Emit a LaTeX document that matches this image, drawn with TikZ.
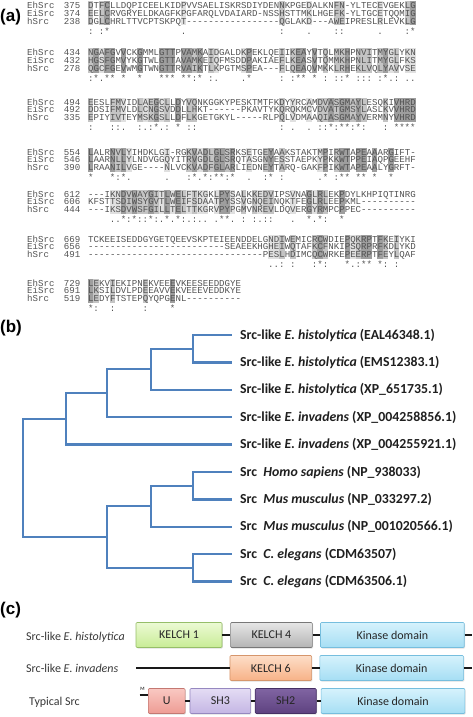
\documentclass[tikz,border=0pt]{standalone}
\usepackage{fontspec}
\setmainfont{Carlito}
\setmonofont{Liberation Mono}
\newfontfamily\panelfont{Liberation Sans}
\usetikzlibrary{positioning,shadows}
\definecolor{treeBlue}{RGB}{79,129,189}
\colorlet{shadeS}{black!38}
\colorlet{shadeC}{black!23}
\colorlet{shadeD}{black!12}
\definecolor{kelchOneTop}{RGB}{236,250,212}
\definecolor{kelchOneBot}{RGB}{200,236,150}
\definecolor{kelchOneLine}{RGB}{150,190,105}
\definecolor{kelchFourTop}{RGB}{230,230,230}
\definecolor{kelchFourBot}{RGB}{180,180,180}
\definecolor{kelchFourLine}{RGB}{120,120,120}
\definecolor{kinaseTop}{RGB}{214,242,252}
\definecolor{kinaseBot}{RGB}{165,222,244}
\definecolor{kinaseLine}{RGB}{118,190,222}
\definecolor{kelchSixTop}{RGB}{253,222,200}
\definecolor{kelchSixBot}{RGB}{247,178,135}
\definecolor{kelchSixLine}{RGB}{214,150,108}
\definecolor{uTop}{RGB}{249,200,194}
\definecolor{uBot}{RGB}{238,156,148}
\definecolor{uLine}{RGB}{196,120,114}
\definecolor{shThreeTop}{RGB}{228,220,244}
\definecolor{shThreeBot}{RGB}{196,182,228}
\definecolor{shThreeLine}{RGB}{150,136,192}
\definecolor{shTwoTop}{RGB}{128,100,162}
\definecolor{shTwoBot}{RGB}{94,66,128}
\definecolor{shTwoLine}{RGB}{70,48,100}
\newcommand{\colw}{5.461}
\newcommand{\markS}{*}
\newcommand{\markC}{:}
\newcommand{\markD}{.}
% one row of the alignment: id, block top, row, name, start, residues
\newcommand{\alnrow}[6]{%
\node[seq] (#1n) at (27,{#2+3+7.6*#3}) {#4};
\node[seqnum] (#1k) at (80.5,{#2+3+7.6*#3}) {#5};
\node[seq] (#1s) at (88,{#2+3+7.6*#3}) {#6};
}
% shaded columns and consensus marks: block, block top, col/level list
\newcommand{\alnshade}[3]{%
\foreach \cc/\lv in {#3}{
\fill[shade\lv] ({88+\colw*\cc},{#2-4.5}) rectangle ++(\colw,24);
\node[consmark] (cm#1-\cc) at ({88+\colw*(\cc+0.5)},{#2+28.5}) {\csname mark\lv\endcsname};
}}

\begin{document}
\begin{tikzpicture}[x=1pt, y=-1pt,
seq/.style={inner sep=0pt, anchor=base west, text=black!68, font=\ttfamily\fontsize{9.1}{10}\selectfont},
seqnum/.style={seq, anchor=base east},
consmark/.style={inner sep=0pt, anchor=base, text=black!68, font=\ttfamily\fontsize{9.1}{10}\selectfont},
panel/.style={inner sep=0pt, anchor=west, font=\panelfont\bfseries\fontsize{17}{17}\selectfont},
branch/.style={treeBlue, line width=2.3pt},
leaf/.style={inner sep=0pt, anchor=west, text=black!88, font=\bfseries\fontsize{13.8}{15}\selectfont},
rowlab/.style={inner sep=0pt, anchor=base west, text=black!78, font=\fontsize{12}{14}\selectfont},
dom/.style={top color=#1Top, bottom color=#1Bot, draw=#1Line, line width=0.6pt, rounded corners=1pt,
  minimum height=25pt, inner sep=0pt, font=\fontsize{12}{14}\selectfont, text=black!85,
  drop shadow={shadow xshift=0.8pt, shadow yshift=-1pt, opacity=0.25}},
link/.style={line width=1.6pt, black!90}]
\useasboundingbox (0,0) rectangle (472,717);

% (a) alignment
\node[panel] (pa) at (0,17.5) {(a)};

\alnshade{1}{6}{0/C,2/C,3/S,17/D,35/C,40/D,45/C,46/C,53/D,58/C,59/S}
\alnrow{b1r1}{6}{0}{EhSrc}{375}{DTFCLLDQPICEELKIDPVVSAELISKRSDIYDENNKPGEDALKNFN-YLTECEVGEKLG}
\alnrow{b1r2}{6}{1}{EiSrc}{374}{EELCRVGRYELDKAGFKPGFARQLVDAIARD-NSSHSTTMKLHGEFK-YLTGCETQQMIG}
\alnrow{b1r3}{6}{2}{hSrc}{238}{DGLCHRLTTVCPTSKPQT-----------------QGLAKD---AWEIPRESLRLEVKLG}

\alnshade{2}{53}{0/C,1/S,2/D,3/S,4/S,6/S,9/S,13/S,14/S,15/S,17/S,18/S,19/C,20/S,22/C,23/D,28/D,29/S,35/C,37/C,38/S,39/S,41/S,43/C,45/C,46/C,47/S,49/C,50/C,51/C,53/C,54/S,55/D,56/C,58/D,59/D}
\alnrow{b2r1}{53}{0}{EhSrc}{434}{NGAFGVVCKGMMLGTTPVAMKAIDGALDKPEKLQEIIKEAYVTQLMKHPNVITMYGLYKN}
\alnrow{b2r2}{53}{1}{EiSrc}{432}{HGSFGMVYKGTWLGTTAVAMKEIQFMSDDPAKIAEFLKEASVTQMMKHPNLITMYGLFKS}
\alnrow{b2r3}{53}{2}{hSrc}{278}{QGCFGEVWMGTWNGTTRVAIKTLKPGTMSPEA---FLQEAQVMKKLRHEKLVQLYAVVSE}

\alnshade{3}{102}{0/C,4/C,5/C,6/D,9/C,10/D,11/C,12/S,13/D,14/C,16/S,18/C,19/C,35/C,37/D,40/D,42/C,43/C,44/S,45/C,46/S,47/S,48/C,49/S,50/C,54/C,56/S,57/S,58/S,59/S}
\alnrow{b3r1}{102}{0}{EhSrc}{494}{EESLFMVIDLAEGCLLDYVQNKGGKYPESKTMTFKDYYRCAMDVASGMAYLESQKIVHRD}
\alnrow{b3r2}{102}{1}{EiSrc}{492}{DDSIFMVLDLCNGSVDDLLHKT------PKAVTYKQRQKMCVDVATGMSYLASLKVVHRD}
\alnrow{b3r3}{102}{2}{hSrc}{335}{EPIYIVTEYMSKGSLLDFLKGETGKYL-----RLPQLVDMAAQIASGMAYVERMNYVHRD}

\alnshade{4}{152.3}{0/S,4/S,5/C,6/S,7/D,14/D,18/C,19/S,20/D,21/S,22/C,23/S,24/S,25/C,26/S,29/D,32/C,33/S,35/C,42/D,43/S,45/C,46/S,47/S,49/S,50/S,52/S,55/S}
\alnrow{b4r1}{152.3}{0}{EhSrc}{554}{LALRNVLYIHDKLGI-RGKVADLGLSRKSETGEYAAKSTAKTMPIRWTAPEAAARGIFT-}
\alnrow{b4r2}{152.3}{1}{EiSrc}{546}{LAARNLLYLNDVGGQYITRVGDLGLSRQTASGNYESSTAEPKYPKKWTPPEIAQPGEEHF}
\alnrow{b4r3}{152.3}{2}{hSrc}{390}{LRAANILVGE----NLVCKVADFGLARLIEDNEYTARQ-GAKFPIKWTAPEAALYGRFT-}

\alnshade{5}{194.3}{4/D,5/D,6/S,7/C,8/S,9/C,10/C,11/S,12/C,13/D,14/S,15/D,16/S,17/C,18/D,19/C,20/D,21/D,23/D,24/S,25/S,26/D,28/C,30/C,31/D,32/C,33/C,37/D,40/S,41/D,42/S,43/C,46/S}
\alnrow{b5r1}{194.3}{0}{EhSrc}{612}{---IKNDVWAYGITLWELFTKGKLPYSALKKEDVIPSVNAGLRLEKPDYLKHPIQTINRG}
\alnrow{b5r2}{194.3}{1}{EiSrc}{606}{KFSTTSDIWSYGVTLWEIFSDAATPYSSVGNQEINQKTFEGLRLEEPKML----------}
\alnrow{b5r3}{194.3}{2}{hSrc}{444}{---IKSDVWSFGILLTELTTKGRVPYPGMVNREVLDQVERGYRMPCPPEC----------}

\alnshade{6}{239}{33/D,34/D,35/C,37/C,41/C,42/S,43/C,47/S,48/D,49/C,50/S,51/S,53/S,54/C,56/C}
\alnrow{b6r1}{239}{0}{EhSrc}{669}{TCKEEISEDDGYGETQEEVSKPTEIEENDDELGNDIWEMICRCWDIEPQKRPTFKEIYKI}
\alnrow{b6r2}{239}{1}{EiSrc}{656}{-------------------------SEAEEKHGHEIWQTAFKCFNKIPSQRPRFKDLYKD}
\alnrow{b6r3}{239}{2}{hSrc}{491}{--------------------------------PESLHDIMCQCWRKEPEERPTFEYLQAF}

\alnshade{7}{283.3}{0/S,1/C,4/C,10/C,15/S}
\alnrow{b7r1}{283.3}{0}{EhSrc}{729}{LEKVIEKIPNEKVEEEVKEESEEDDGYE}
\alnrow{b7r2}{283.3}{1}{EiSrc}{691}{LKSILDVLPDEEAVVEKVEEEVEDDKYE}
\alnrow{b7r3}{283.3}{2}{hSrc}{519}{LEDYFTSTEPQYQPGENL----------}

% (b) tree
\node[panel] (pb) at (0,328) {(b)};
\foreach \i in {1,...,10}
\coordinate (l\i) at (231.7,{335+27.4*(\i-1)});
\coordinate (na) at (192.7,348.7);
\coordinate (nb) at (151,369.2);
\coordinate (nc) at (107.3,393.2);
\coordinate (nd) at (65.7,418.9);
\coordinate (ne) at (192.7,485.7);
\coordinate (nf) at (151,506.2);
\coordinate (ng) at (192.7,567.9);
\coordinate (nh) at (107.3,537);
\coordinate (nr) at (22.7,478);
\foreach \c/\u/\v in {na/l1/l2, nb/na/l3, nc/nb/l4, nd/nc/l5, ne/l6/l7, nf/ne/l8, ng/l9/l10, nh/nf/ng, nr/nd/nh}
\draw[branch] (\u) -| (\c) |- (\v);
\foreach \i/\txt in {1/{Src-like \textit{E. histolytica} (EAL46348.1)},
  2/{Src-like \textit{E. histolytica} (EMS12383.1)},
  3/{Src-like \textit{E. histolytica} (XP\_651735.1)},
  4/{Src-like \textit{E. invadens} (XP\_004258856.1)},
  5/{Src-like \textit{E. invadens} (XP\_004255921.1)},
  6/{Src\ \ \textit{Homo sapiens} (NP\_938033)},
  7/{Src\ \ \textit{Mus musculus} (NP\_033297.2)},
  8/{Src\ \ \textit{Mus musculus} (NP\_001020566.1)},
  9/{Src\ \ \textit{C. elegans} (CDM63507)},
  10/{Src\ \ \textit{C. elegans} (CDM63506.1)}}
\node[leaf, right=8.3pt of l\i] (t\i) {\txt};

% (c) domains
\node[panel] (pc) at (0,610) {(c)};
\node[rowlab] (r1) at (26,640) {Src-like \textit{E. histolytica}};
\node[rowlab] (r2) at (26,672.5) {Src-like \textit{E. invadens}};
\node[rowlab] (r3) at (29,705) {Typical Src};

\node[dom=kelchOne, minimum width=86pt] (k1) at (179,635) {KELCH 1};
\node[dom=kelchFour, minimum width=81.7pt, right=8pt of k1] (k4) {KELCH 4};
\node[dom=kinase, minimum width=143.7pt, right=7.6pt of k4] (kin1) {Kinase domain};
\coordinate (e1) at (472,635);
\draw[link] (k1) -- (k4);
\draw[link] (k4) -- (kin1);
\draw[link] (kin1) -- (e1);

\coordinate (s2) at (136,668);
\node[dom=kelchSix, minimum width=81.7pt] (k6) at (270.8,668) {KELCH 6};
\node[dom=kinase, minimum width=143.7pt, right=7.6pt of k6] (kin2) {Kinase domain};
\coordinate (e2) at (472,668);
\draw[link] (s2) -- (k6);
\draw[link] (k6) -- (kin2);
\draw[link] (kin2) -- (e2);

\node[dom=u, minimum width=36.7pt] (u) at (166.7,701) {U};
\node[dom=shThree, minimum width=60.7pt, right=4.3pt of u] (sh3) {SH3};
\node[dom=shTwo, minimum width=61pt, right=4pt of sh3] (sh2) {SH2};
\node[dom=kinase, minimum width=143.7pt, right=4.3pt of sh2] (kin3) {Kinase domain};
\coordinate (m0) at (139.5,695);
\node[inner sep=0pt, font=\fontsize{5}{5}\selectfont] (mlab) at (142.5,688.5) {M};
\draw[link] (m0) -- (m0 -| u.west);
\draw[link] (u) -- (sh3);
\draw[link] (sh3) -- (sh2);
\draw[link] (sh2) -- (kin3);
\end{tikzpicture}
\end{document}
